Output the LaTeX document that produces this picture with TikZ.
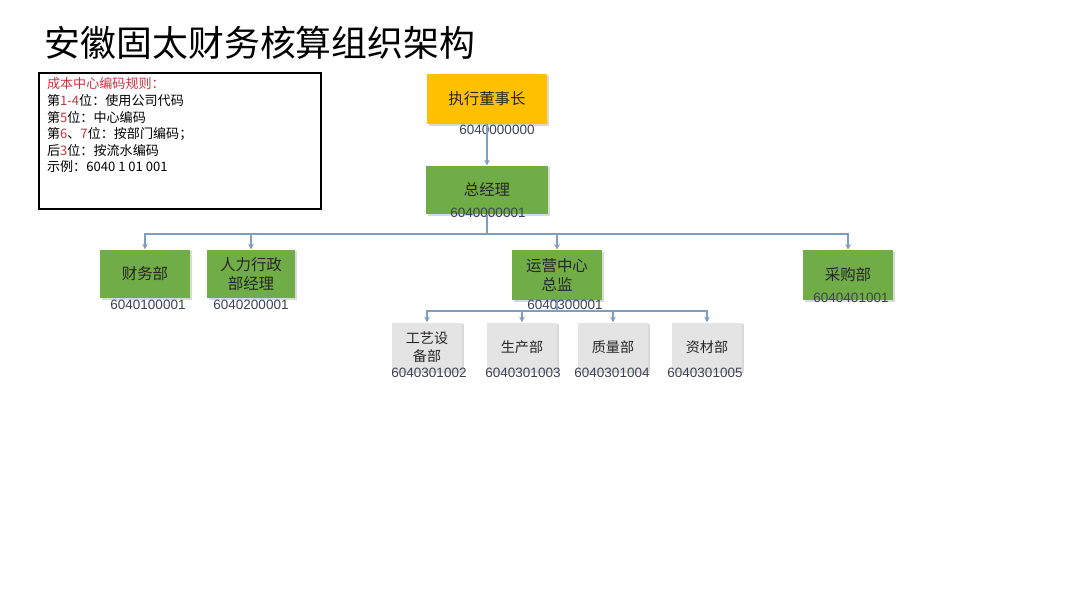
\documentclass[tikz,border=0pt]{standalone}
\usepackage{fontspec}
\setmainfont{Liberation Sans}
\newfontfamily\cjk{Noto Sans CJK SC}
\usepackage{tikz}
\usetikzlibrary{arrows.meta,shadows,positioning}
\definecolor{boxgreen}{RGB}{112,173,71}
\definecolor{boxgold}{RGB}{255,192,0}
\definecolor{boxgray}{RGB}{228,228,228}
\definecolor{linkblue}{RGB}{125,158,192}
\definecolor{codegray}{RGB}{60,66,84}
\definecolor{rulered}{RGB}{208,48,64}

\begin{document}
\begin{tikzpicture}[x=0.025cm,y=-0.025cm,
unit/.style={inner sep=0pt,align=center,text=black!85,
  drop shadow={opacity=0.3,shadow xshift=1.2pt,shadow yshift=-1.2pt},
  font=\cjk\fontsize{11}{14}\selectfont},
head/.style={unit,fill=boxgold,minimum width=3cm,minimum height=1.25cm},
dept/.style={unit,fill=boxgreen,minimum width=2.25cm,minimum height=1.22cm},
sub/.style={unit,fill=boxgray,minimum width=1.75cm,minimum height=1.22cm,
  font=\cjk\fontsize{10}{12.5}\selectfont},
code/.style={inner sep=0pt,text=codegray,font=\fontsize{9.6}{11}\selectfont},
link/.style={draw=linkblue,line width=0.8pt,-{Stealth[length=4pt,width=4pt]}}]
\useasboundingbox (0,0) rectangle (1080,607);

\node[anchor=west,font=\cjk\fontsize{25.5}{30}\selectfont] (title) at (40,43) {安徽固太财务核算组织架构};

\node[draw,line width=1.3pt,anchor=north west,minimum width=7.05cm,minimum height=3.4cm,inner sep=0pt] (rulebox) at (38,72) {};
\node[anchor=north west,align=left,inner sep=0pt,font=\cjk\fontsize{9.3}{11.8}\selectfont]
  (ruletext) at ([xshift=0.22cm,yshift=-0.14cm]rulebox.north west)
  {{\color{rulered}成本中心编码规则：}\\
   第{\color{rulered}1-4}位：使用公司代码\\
   第{\color{rulered}5}位：中心编码\\
   第{\color{rulered}6}、{\color{rulered}7}位：按部门编码；\\
   后{\color{rulered}3}位：按流水编码\\
   示例：6040 1 01 001};

\node[head] (chair) at (487,99) {执行董事长};
\node[dept,minimum width=3.05cm] (gm) at (487,190) {总经理};
\node[dept] (fin) at (145,274) {财务部};
\node[dept,minimum width=2.2cm] (hr) at (251,274) {人力行政\\部经理};
\node[dept,minimum height=1.25cm] (ops) at (557,275) {运营中心\\总监};
\node[dept,minimum height=1.25cm] (buy) at (848,275) {采购部};
\node[sub] (craft) at (427,347) {工艺设\\备部};
\node[sub] (prod) at (522,347) {生产部};
\node[sub] (qual) at (613,347) {质量部};
\node[sub] (mat) at (707,347) {资材部};

\node[code] (chairno) at (497,130) {6040000000};
\node[code] (gmno) at (488,213) {6040000001};
\node[code] (finno) at (148,305) {6040100001};
\node[code] (hrno) at (251,305) {6040200001};
\node[code] (opsno) at (565,305) {6040300001};
\node[code] (buyno) at (851,298) {6040401001};
\node[code] (craftno) at (429,373) {6040301002};
\node[code] (prodno) at (523,373) {6040301003};
\node[code] (qualno) at (612,373) {6040301004};
\node[code] (matno) at (705,373) {6040301005};

\coordinate (bus) at (487,234);
\coordinate (subbus) at (557,311);
\draw[link] (chair.south) -- (gm.north);
\foreach \d in {fin,hr,ops,buy}
  \draw[link] (gm.south) -- (bus) -| (\d.north);
\foreach \s in {craft,prod,qual,mat}
  \draw[link] (ops.south) -- (subbus) -| (\s.north);
\end{tikzpicture}
\end{document}
